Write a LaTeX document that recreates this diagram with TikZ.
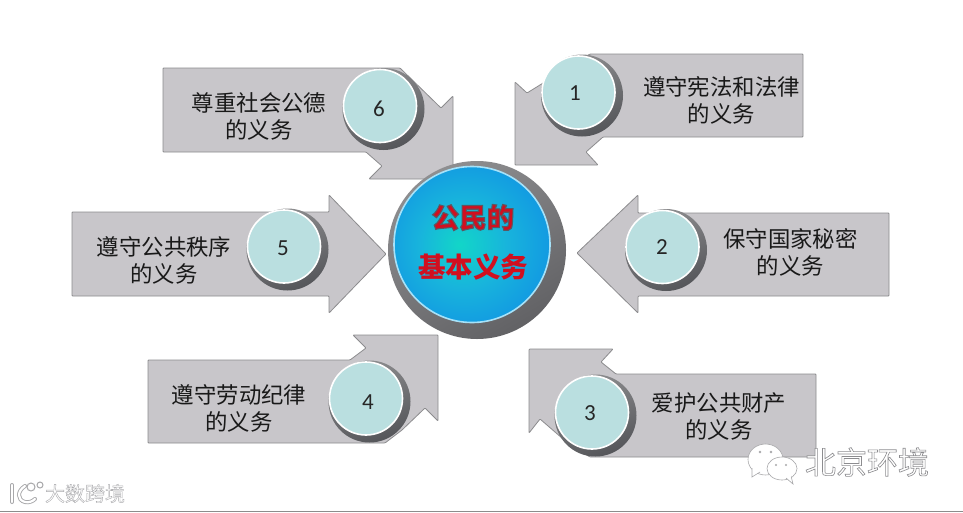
\documentclass[tikz,border=0pt]{standalone}
\usepackage{fontspec}
\newfontfamily\digitfont{Carlito}
\newfontfamily\cjk{Noto Sans CJK SC}
\definecolor{hubteal}{HTML}{12D6C8}
\definecolor{hubmid}{HTML}{18B4DC}
\definecolor{hubblue}{HTML}{1090E4}
\definecolor{boxfill}{HTML}{C8C6CA}
\definecolor{boxedge}{HTML}{8C8C8E}
\definecolor{discteal}{HTML}{BADFE0}
\definecolor{ringlight}{HTML}{8E8E90}
\definecolor{ringdark}{HTML}{55565A}
\definecolor{hubringdark}{HTML}{626265}
\definecolor{markgrey}{HTML}{A8A8AA}
\pgfdeclareradialshading{hubglow}{\pgfpoint{-4bp}{0bp}}{
  color(0bp)=(hubteal); color(14bp)=(hubmid); color(32bp)=(hubblue); color(50bp)=(hubblue)}
\newcommand{\outlined}[3]{\special{pdf:bcolor [#1] [#2]}\addfontfeature{FakeBold=#3}}
\newcommand{\outlinedend}{\special{pdf:ecolor}}
\tikzset{
  arrowbox/.style={draw=boxedge,line width=0.8pt,fill=boxfill,rounded corners=0.8pt},
  ringdisc/.style={circle,minimum size=82pt,inner sep=0pt,top color=ringlight,bottom color=ringdark,shading angle=20},
  tealdisc/.style={circle,minimum size=73pt,inner sep=0pt,draw=white,line width=1.6pt,fill=discteal},
  digit/.style={inner sep=0pt,text=black!85,font=\digitfont\fontsize{23}{24}\selectfont},
  boxlabel/.style={align=center,text=black!90,font=\cjk\fontsize{22.4}{27}\selectfont},
  hubtitle/.style={align=center,font=\cjk\bfseries\fontsize{27.5}{50}\selectfont},
  wmark/.style={font=\cjk\fontsize{#1}{#1}\selectfont},
  bubble/.style={draw=markgrey,line width=0.6pt,fill=white},
  eye/.style={fill=markgrey},
  logoout/.style={markgrey,line width=4pt,line cap=round},
  logoin/.style={white,line width=2.2pt,line cap=round},
}
\begin{document}
\begin{tikzpicture}[x=1pt,y=-1pt]
\useasboundingbox (0,0) rectangle (963,512);
\fill[white] (0,0) rectangle (963,512);
\draw[line width=1pt,black!45] (0,511.5) -- (963,511.5);

% arrows
\draw[arrowbox] (803,54) -- (590,54) -- (527,93) -- (515,82) -- (515,165) -- (598,165) -- (586,152) -- (603,137) -- (803,137) -- cycle;
\draw[arrowbox] (889,213) -- (638,213) -- (638,195) -- (577,253) -- (638,313) -- (638,296) -- (889,296) -- cycle;
\draw[arrowbox] (816,374) -- (616,374) -- (601,362) -- (613,349) -- (529,349) -- (529,433) -- (540,419) -- (570,445) -- (590,457) -- (816,457) -- cycle;
\draw[arrowbox] (148,360) -- (350,360) -- (366,348) -- (353,335) -- (438,335) -- (438,421) -- (425,408) -- (402,430) -- (385,443) -- (148,443) -- cycle;
\draw[arrowbox] (72,212) -- (329,212) -- (329,195) -- (386,254) -- (329,313) -- (329,296) -- (72,296) -- cycle;
\draw[arrowbox] (163,68) -- (400,68) -- (441,108) -- (453,96) -- (453,179) -- (369,179) -- (382,166) -- (366,152) -- (163,152) -- cycle;

% rings and discs
\node[ringdisc] (r1) at (582,95.5) {};
\node[ringdisc] (r2) at (666,250) {};
\node[ringdisc] (r3) at (595.5,415.5) {};
\node[ringdisc] (r4) at (369.5,401.5) {};
\node[ringdisc] (r5) at (287.5,249.5) {};
\node[ringdisc] (r6) at (383.5,109) {};
\node[tealdisc] (d1) at (578.5,92.5) {};
\node[tealdisc] (d2) at (662.5,247) {};
\node[tealdisc] (d3) at (592,412.5) {};
\node[tealdisc] (d4) at (366,398.5) {};
\node[tealdisc] (d5) at (284,246.5) {};
\node[tealdisc] (d6) at (380,106) {};
\node[digit] (n1) at (575,93) {1};
\node[digit] (n2) at (662,247) {2};
\node[digit] (n3) at (590,413) {3};
\node[digit] (n4) at (368,402) {4};
\node[digit] (n5) at (283,248) {5};
\node[digit] (n6) at (379,109) {6};

% labels
\node[boxlabel] (t1) at (721.5,100.5) {遵守宪法和法律\\的义务};
\node[boxlabel] (t2) at (790.5,252) {保守国家秘密\\的义务};
\node[boxlabel] (t3) at (719,416.5) {爱护公共财产\\的义务};
\node[boxlabel] (t4) at (239,408.5) {遵守劳动纪律\\的义务};
\node[boxlabel] (t5) at (164,260) {遵守公共秩序\\的义务};
\node[boxlabel] (t6) at (259,116) {尊重社会公德\\的义务};

% hub
\node[circle,minimum size=178pt,inner sep=0pt,top color=ringlight,bottom color=hubringdark,shading angle=30] (hubring) at (477,250) {};
\node[circle,minimum size=156pt,inner sep=0pt,shading=hubglow,draw=cyan!35,line width=1.6pt] (hub) at (472,244.5) {};
\node[hubtitle] (hubtext) at (473,242.5) {\outlined{0.82 0.06 0.12}{0.36 0.34 0.38}{4}公民的\\基本义务\outlinedend};

% watermarks
\draw[bubble] (765.5,459.5) ellipse (17.5 and 15.5);
\fill[eye] (760,452) circle (1.3) (771,452) circle (1.3);
\draw[bubble] (752,468) -- (752,477) -- (760,472);
\draw[bubble] (782,468.5) ellipse (15 and 11.5);
\draw[bubble] (786,478) -- (793,484) -- (791,476);
\fill[white] (786.5,476.5) -- (791.5,475) -- (790,479) -- cycle;
\fill[eye] (776,465) circle (1.1) (786,465) circle (1.1);
\node[wmark=31] (wm1) at (867,462) {\outlined{1 1 1}{0.55 0.55 0.56}{2}北京环境\outlinedend};
\node[wmark=20] (wm2) at (85,493.5) {\outlined{1 1 1}{0.66 0.66 0.67}{2}大数跨境\outlinedend};
\draw[logoout] (12,485) -- (12,502);
\draw[logoin] (12,485) -- (12,502);
\draw[logoout] (25,486) .. controls (17,491) and (17,500) .. (25,502) .. controls (29,503) and (33,501) .. (35,499);
\draw[logoin] (25,486) .. controls (17,491) and (17,500) .. (25,502) .. controls (29,503) and (33,501) .. (35,499);
\draw[markgrey,line width=1pt,fill=white] (31,487) circle (4) (40,485) circle (3);
\end{tikzpicture}
\end{document}
